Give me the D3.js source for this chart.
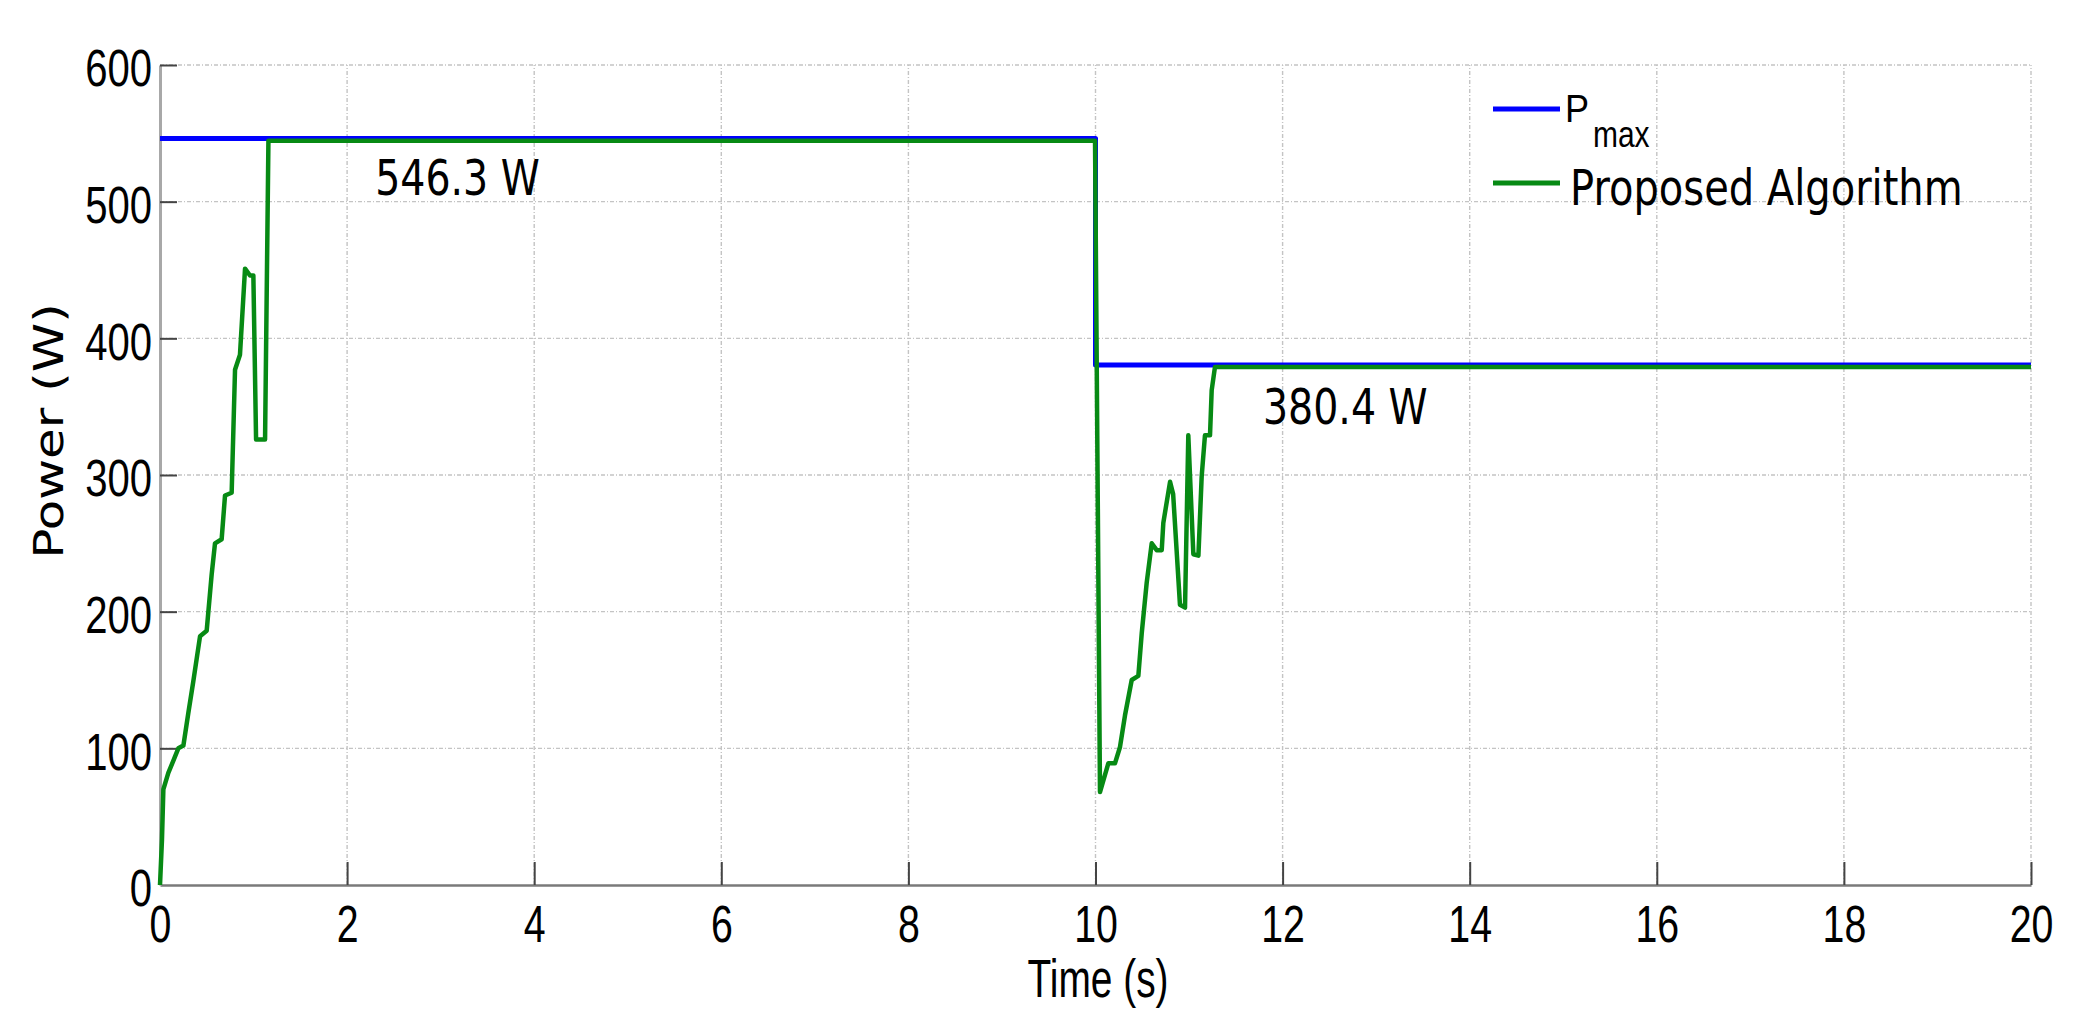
<!DOCTYPE html>
<html>
<head>
<meta charset="utf-8">
<script src="https://cdn.jsdelivr.net/npm/d3@7"></script>
<style>
  html, body { margin: 0; padding: 0; background: #ffffff; }
  svg { display: block; }
</style>
</head>
<body>
<svg id="chart" width="2095" height="1026"></svg>
<script>
// ---------------- data ----------------
const timeTicks  = [0, 2, 4, 6, 8, 10, 12, 14, 16, 18, 20];
const powerTicks = [0, 100, 200, 300, 400, 500, 600];

const seriesNames = ["P", "Proposed Algorithm"];

// Pmax (blue)
const pmaxTime  = [0, 10, 10, 20];
const pmaxPower = [546.3, 546.3, 380.4, 380.4];

// Proposed algorithm (green)
const algTime = [
  0, 0.021, 0.036, 0.089, 0.143, 0.196, 0.25, 0.303, 0.356, 0.428, 0.499,
  0.552, 0.588, 0.659, 0.695, 0.766, 0.802, 0.855, 0.909, 0.962, 0.998,
  1.027, 1.123, 1.159, 9.995,
  10.048, 10.137, 10.208, 10.262, 10.315, 10.387, 10.458, 10.494, 10.547,
  10.601, 10.654, 10.708, 10.725, 10.797, 10.83, 10.903, 10.957, 10.992,
  11.046, 11.1, 11.135, 11.17, 11.224, 11.242, 11.277, 20
];
const algPower = [
  0, 33, 70, 82, 91, 100, 102, 126, 149, 182, 186,
  227, 250, 253, 285, 287, 377, 388, 451, 446, 446,
  326, 326, 544.5, 544.5,
  68, 89, 89, 101, 124, 150, 153, 184, 221,
  250, 245, 245, 265, 295, 286, 205, 203, 329,
  242, 241, 299, 329, 329, 362, 379, 379
];

const annotationLabels = ["546.3 W", "380.4 W"];
const annotationAt     = [[2.3, 505], [11.79, 337]];

// ---------------- layout ----------------
const svg = d3.select("#chart");
const x = d3.scaleLinear().domain([0, 20]).range([160, 2031]);
const y = d3.scaleLinear().domain([0, 600]).range([885, 65]);

const tickFont = "'Liberation Sans', Arial, sans-serif";
const textFont = "'DejaVu Sans', Verdana, sans-serif";

// grid
const grid = svg.append("g");
grid.selectAll("line.gx").data(timeTicks.filter(d => d > 0)).join("line")
  .attr("x1", d => x(d)).attr("x2", d => x(d))
  .attr("y1", y(0)).attr("y2", y(600))
  .attr("stroke", "#c4c4c4").attr("stroke-width", 1.4)
  .attr("stroke-dasharray", "4,2,1,2");
grid.selectAll("line.gy").data(powerTicks.filter(d => d > 0)).join("line")
  .attr("x1", x(0)).attr("x2", x(20))
  .attr("y1", d => y(d)).attr("y2", d => y(d))
  .attr("stroke", "#c4c4c4").attr("stroke-width", 1.4)
  .attr("stroke-dasharray", "4,2,1,2");

// axes
const xAxis = svg.append("g")
  .attr("transform", `translate(0,${y(0)})`)
  .call(d3.axisBottom(x).tickValues(timeTicks).tickFormat(d3.format("d"))
        .tickSizeInner(-23).tickSizeOuter(0));
xAxis.select(".domain").attr("stroke", "#7a7a7a").attr("stroke-width", 2.5);
xAxis.selectAll(".tick line").attr("stroke", "#444").attr("stroke-width", 2);
xAxis.selectAll(".tick text")
  .attr("y", 57).attr("dy", 0)
  .attr("transform", "scale(0.77,1)")
  .style("font-family", tickFont).style("font-size", "51px").attr("fill", "#000");

const yAxis = svg.append("g")
  .attr("transform", `translate(${x(0)},0)`)
  .call(d3.axisLeft(y).tickValues(powerTicks).tickFormat(d3.format("d"))
        .tickSizeInner(-17).tickSizeOuter(0));
yAxis.select(".domain").attr("stroke", "#a8a8a8").attr("stroke-width", 3);
yAxis.selectAll(".tick line").attr("stroke", "#444").attr("stroke-width", 2);
yAxis.selectAll(".tick text")
  .attr("x", -8 / 0.77).attr("dy", "0.4em")
  .attr("transform", "scale(0.77,1)")
  .style("font-family", tickFont).style("font-size", "52px").attr("fill", "#000");
svg.selectAll(".tick line").filter(function(d) { return d === 0; }).remove();

// axis titles
svg.append("text")
  .attr("transform", "translate(1098,997) scale(0.72,1)")
  .attr("text-anchor", "middle")
  .style("font-family", tickFont).style("font-size", "54px")
  .text("Time (s)");
svg.append("text")
  .attr("transform", "translate(63,431) scale(0.8,1) rotate(-90)")
  .attr("text-anchor", "middle")
  .style("font-family", textFont).style("font-size", "50px")
  .text("Power (W)");

// lines
const line = d3.line().x(d => x(d[0])).y(d => y(d[1]));
svg.append("path")
  .datum(pmaxTime.map((t, i) => [t, pmaxPower[i]]))
  .attr("d", line).attr("fill", "none")
  .attr("stroke", "#0000ff").attr("stroke-width", 5)
  .attr("stroke-linejoin", "round");
svg.append("path")
  .datum(algTime.map((t, i) => [t, algPower[i]]))
  .attr("d", line).attr("fill", "none")
  .attr("stroke", "#078a14").attr("stroke-width", 4.5)
  .attr("stroke-linejoin", "round");

// annotations
annotationLabels.forEach((lab, i) => {
  svg.append("text")
    .attr("transform", `translate(${x(annotationAt[i][0])},${y(annotationAt[i][1])}) scale(0.79,1)`)
    .style("font-family", textFont).style("font-size", "50px")
    .text(lab);
});

// legend
const leg = svg.append("g");
leg.append("line").attr("x1", 1493).attr("x2", 1560).attr("y1", 109).attr("y2", 109)
  .attr("stroke", "#0000ff").attr("stroke-width", 5);
leg.append("line").attr("x1", 1493).attr("x2", 1560).attr("y1", 183).attr("y2", 183)
  .attr("stroke", "#078a14").attr("stroke-width", 5);
leg.append("text")
  .attr("transform", "translate(1565,122) scale(0.95,1)")
  .style("font-family", tickFont).style("font-size", "38px")
  .text(seriesNames[0]);
leg.append("text")
  .attr("transform", "translate(1593,147) scale(0.81,1)")
  .style("font-family", tickFont).style("font-size", "37px")
  .text("max");
leg.append("text")
  .attr("transform", "translate(1570,205) scale(0.8,1)")
  .style("font-family", textFont).style("font-size", "50px")
  .text(seriesNames[1]);
</script>
</body>
</html>
